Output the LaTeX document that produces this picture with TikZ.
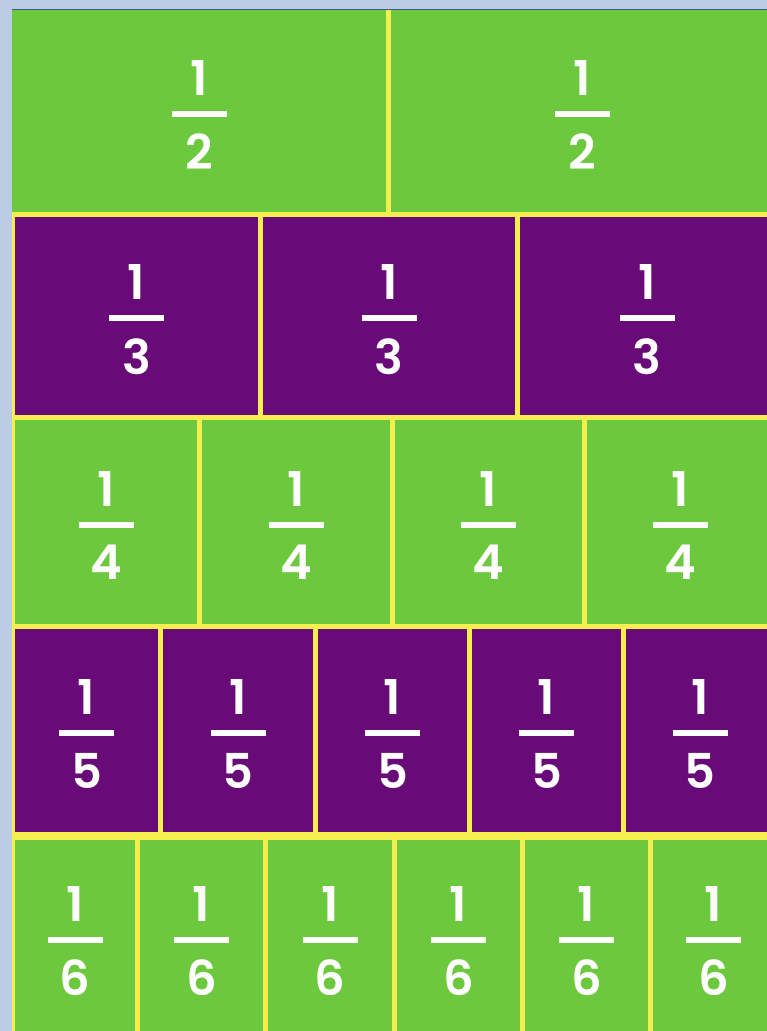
\documentclass[tikz,border=0pt]{standalone}
\usepackage{fontspec}
\setmainfont{Poppins}[BoldFont={Poppins SemiBold}]
\definecolor{bgblue}{HTML}{BCCCE4}
\definecolor{edgeblue}{HTML}{3A5A96}
\definecolor{yel}{HTML}{F4EE4E}
\definecolor{grn}{HTML}{6CC83C}
\definecolor{pur}{HTML}{690A79}
\newcommand\fr[1]{\vbox{\offinterlineskip\halign{\hfil##\hfil\cr 1\cr\noalign{\kern15.5pt}\vrule width 55pt height 6pt depth 0pt\cr\noalign{\kern17pt}#1\cr}}}
\begin{document}
\begin{tikzpicture}[x=1pt,y=-1pt,
  cell/.style={inner sep=0pt,outer sep=0pt,draw=none,anchor=north west},
  frac/.style={inner sep=0pt,outer sep=0pt,text=white,font=\fontsize{48}{48}\selectfont\bfseries}]
\useasboundingbox (0,0) rectangle (767,1031);
\clip (0,0) rectangle (767,1031);
\fill[bgblue] (0,0) rectangle (767,1031);
\fill[yel] (12,10) rectangle (780,1031);
\draw[edgeblue,line width=1.5pt] (12,9.5) -- (780,9.5);
% row 1
\foreach \a/\b [count=\i] in {12/386,391/774}{
  \node[cell,fill=grn,minimum width={(\b-\a)*1pt},minimum height=202pt] (r1c\i) at (\a,10) {};
  \node[frac] (f1c\i) at ([yshift=-3.75pt]r1c\i.center) {\fr{2}};
}
% row 2
\foreach \a/\b [count=\i] in {15/258,263/515,520/774}{
  \node[cell,fill=pur,minimum width={(\b-\a)*1pt},minimum height=198pt] (r2c\i) at (\a,217) {};
  \node[frac] (f2c\i) at ([yshift=-3.75pt]r2c\i.center) {\fr{3}};
}
% row 3
\foreach \a/\b [count=\i] in {15/197,202/390,395/582,587/774}{
  \node[cell,fill=grn,minimum width={(\b-\a)*1pt},minimum height=204pt] (r3c\i) at (\a,420) {};
  \node[frac] (f3c\i) at ([yshift=-3.75pt]r3c\i.center) {\fr{4}};
}
% row 4
\foreach \a/\b [count=\i] in {15/158,163/313,318/467,472/621,626/774}{
  \node[cell,fill=pur,minimum width={(\b-\a)*1pt},minimum height=203pt] (r4c\i) at (\a,629) {};
  \node[frac] (f4c\i) at ([yshift=-3.75pt]r4c\i.center) {\fr{5}};
}
% row 5
\foreach \a/\b [count=\i] in {15/135,140/263,268/392,397/520,525/648,653/774}{
  \node[cell,fill=grn,minimum width={(\b-\a)*1pt},minimum height=195pt] (r5c\i) at (\a,840) {};
  \node[frac] (f5c\i) at ([yshift=-3.75pt]r5c\i.center) {\fr{6}};
}
\end{tikzpicture}
\end{document}
